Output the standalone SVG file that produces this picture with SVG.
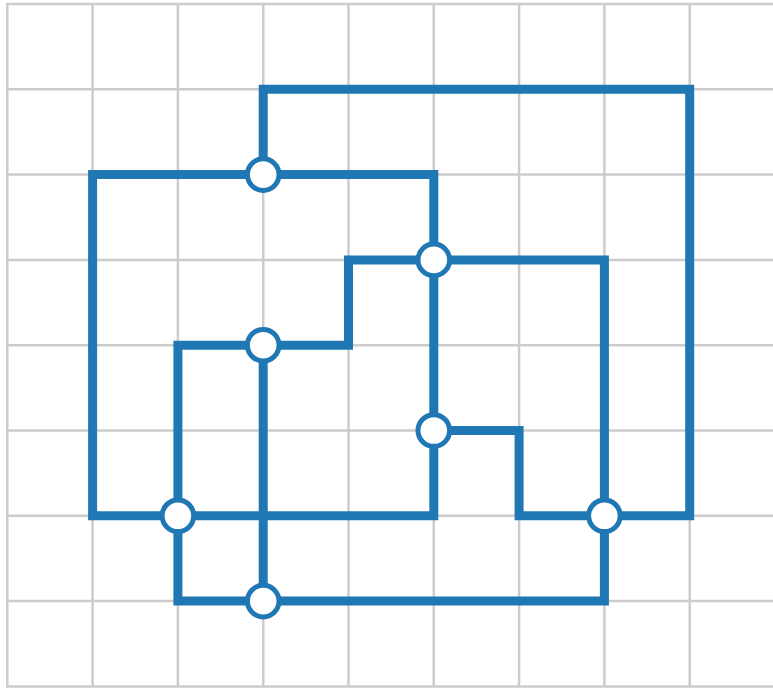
<svg xmlns="http://www.w3.org/2000/svg" width="773" height="689" viewBox="0 0 773 689">
<style>
.grid line{stroke:#cccccc;stroke-width:2.5}
.edge{fill:none;stroke:#1f77b4;stroke-width:9;stroke-linejoin:miter;stroke-linecap:butt}
.node circle{fill:#ffffff;stroke:#1f77b4;stroke-width:5}
</style>
<rect width="773" height="689" fill="#ffffff"/>
<g class="grid">
<line x1="7.3" y1="4" x2="7.3" y2="686.4"/>
<line x1="92.6" y1="4" x2="92.6" y2="686.4"/>
<line x1="177.9" y1="4" x2="177.9" y2="686.4"/>
<line x1="263.2" y1="4" x2="263.2" y2="686.4"/>
<line x1="348.5" y1="4" x2="348.5" y2="686.4"/>
<line x1="433.8" y1="4" x2="433.8" y2="686.4"/>
<line x1="519.1" y1="4" x2="519.1" y2="686.4"/>
<line x1="604.4" y1="4" x2="604.4" y2="686.4"/>
<line x1="689.7" y1="4" x2="689.7" y2="686.4"/>
<line x1="6" y1="4" x2="773" y2="4"/>
<line x1="6" y1="89.3" x2="773" y2="89.3"/>
<line x1="6" y1="174.6" x2="773" y2="174.6"/>
<line x1="6" y1="259.9" x2="773" y2="259.9"/>
<line x1="6" y1="345.2" x2="773" y2="345.2"/>
<line x1="6" y1="430.5" x2="773" y2="430.5"/>
<line x1="6" y1="515.8" x2="773" y2="515.8"/>
<line x1="6" y1="601.1" x2="773" y2="601.1"/>
<line x1="6" y1="686.4" x2="773" y2="686.4"/>
</g>
<g id="connectors">
<path class="edge" d="M263.2,174.6 V89.3 H689.7 V515.8 H604.4"/>
<path class="edge" d="M92.6,174.6 H433.8 V515.8 H92.6 Z"/>
<path class="edge" d="M177.9,345.2 H348.5 V259.9 H604.4 V601.1 H177.9 Z"/>
<path class="edge" d="M263.2,345.2 V601.1"/>
<path class="edge" d="M433.8,430.5 H519.1 V515.8 H604.4"/>
</g>
<g id="n1" class="node"><circle cx="263.2" cy="174.6" r="15.8"/></g>
<g id="n2" class="node"><circle cx="433.8" cy="259.9" r="15.8"/></g>
<g id="n3" class="node"><circle cx="263.2" cy="345.2" r="15.8"/></g>
<g id="n4" class="node"><circle cx="433.8" cy="430.5" r="15.8"/></g>
<g id="n5" class="node"><circle cx="177.9" cy="515.8" r="15.8"/></g>
<g id="n6" class="node"><circle cx="604.4" cy="515.8" r="15.8"/></g>
<g id="n7" class="node"><circle cx="263.2" cy="601.1" r="15.8"/></g>
</svg>
